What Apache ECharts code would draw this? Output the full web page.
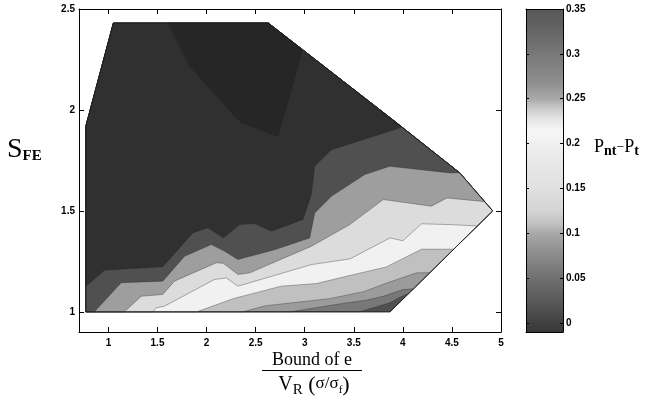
<!DOCTYPE html>
<html>
<head>
<meta charset="utf-8">
<script src="https://cdn.jsdelivr.net/npm/echarts@6/dist/echarts.min.js"></script>
<style>
  html, body { margin: 0; padding: 0; background: #fff; }
  #chart { width: 645px; height: 403px; }
</style>
</head>
<body>
<div id="chart"></div>
<script>
// filled contour of Pnt - Pt over (bound of e / VR, S_FE)
// every edge is a list of [x, y] points in data units

// outline of the region where the function was evaluated
const domainEdge = [[0.77, 1.0], [3.87, 1.0], [4.915, 1.5], [4.58, 1.688], [3.9, 1.95], [2.63, 2.43], [1.05, 2.43], [0.77, 1.92]];

// contour lines, lowest level first (bottom right) to highest (top)
const lineH = [[3.55, 0.9], [3.56, 1.0], [3.87, 1.045], [3.96, 1.07], [4.2, 1.12]];
const lineG = [[2.84, 0.9], [2.86, 1.0], [3.3, 1.035], [3.63, 1.058], [3.8, 1.077], [4.0, 1.11], [4.3, 1.12]];
const lineF = [[2.35, 0.9], [2.37, 1.0], [2.6, 1.03], [3.25, 1.065], [3.6, 1.10], [3.85, 1.145], [4.14, 1.193], [4.5, 1.195]];
const lineE = [[1.88, 0.9], [1.9, 1.0], [2.27, 1.065], [2.76, 1.127], [3.12, 1.14], [3.46, 1.18], [3.83, 1.222], [4.19, 1.31], [4.7, 1.31]];
const lineD = [[1.44, 0.9], [1.452, 1.0], [1.487, 1.02], [1.571, 1.028], [2.08, 1.16], [2.2, 1.168], [2.32, 1.127],
  [3.07, 1.234], [3.46, 1.262], [3.87, 1.366], [4.0, 1.352], [4.19, 1.436], [4.48, 1.432], [4.9, 1.422]];
const lineC = [[1.14, 0.9], [1.163, 1.0], [1.334, 1.077], [1.554, 1.086], [1.673, 1.152], [2.1, 1.243], [2.17, 1.24],
  [2.32, 1.185], [2.44, 1.193], [3.07, 1.325], [3.46, 1.432], [3.8, 1.556], [4.04, 1.54], [4.29, 1.523],
  [4.45, 1.564], [4.79, 1.548], [5.1, 1.52]];
const lineB = [[0.83, 0.9], [0.857, 1.0], [1.13, 1.144], [1.554, 1.152], [1.776, 1.275], [2.048, 1.333], [2.184, 1.30],
  [2.319, 1.259], [2.694, 1.308], [3.051, 1.366], [3.102, 1.49], [3.272, 1.572], [3.612, 1.68], [3.867, 1.721],
  [4.48, 1.688], [4.8, 1.69]];
const lineA = [[0.6, 1.11], [0.772, 1.127], [0.959, 1.206], [1.554, 1.223], [1.86, 1.391], [2.013, 1.416], [2.17, 1.366],
  [2.337, 1.432], [2.49, 1.437], [2.66, 1.399], [2.983, 1.457], [3.068, 1.581], [3.102, 1.721], [3.272, 1.803],
  [3.9, 1.9], [4.2, 1.95]];
const islandEdge = [[1.59, 2.6], [1.605, 2.43], [1.673, 2.364], [1.827, 2.216], [1.997, 2.125], [2.268, 1.977],
  [2.354, 1.936], [2.728, 1.869], [2.949, 2.241], [3.1, 2.6]];

const bandLines = [null, lineH, lineG, lineF, lineE, lineD, lineC, lineB, lineA, islandEdge];
const bandLevels = [0, 0.03, 0.06, 0.09, 0.13, 0.2, 0.24, 0.27, 0.31, 0.35];
const bandColors = ['#505050', '#787878', '#9b9b9b', '#c0c0c0', '#f1f1f1', '#dcdcdc', '#9e9e9e', '#505050', '#303030', '#262626'];

// colour bar
const cbValues = [-0.01, 0, 0.02, 0.05, 0.08, 0.1, 0.11, 0.125, 0.15, 0.18, 0.2, 0.215, 0.23, 0.24, 0.25, 0.27, 0.3, 0.33, 0.35];
const cbGrays = [56, 64, 85, 112, 144, 168, 192, 212, 224, 232, 240, 246, 224, 200, 168, 140, 120, 98, 88];
const cbMin = -0.01, cbMax = 0.35;

// Sutherland-Hodgman against the (convex) domain
function clipToDomain(poly) {
  let out = poly;
  for (let k = 0; k < domainEdge.length; k++) {
    const a = domainEdge[k], b = domainEdge[(k + 1) % domainEdge.length];
    const side = p => (b[0] - a[0]) * (p[1] - a[1]) - (b[1] - a[1]) * (p[0] - a[0]);
    const src = out;
    out = [];
    for (let j = 0; j < src.length; j++) {
      const p = src[j], q = src[(j + 1) % src.length];
      const sp = side(p), sq = side(q);
      if (sp >= 0) out.push(p);
      if ((sp >= 0) !== (sq >= 0)) {
        const t = sp / (sp - sq);
        out.push([p[0] + t * (q[0] - p[0]), p[1] + t * (q[1] - p[1])]);
      }
    }
  }
  return out;
}

// region on the upper-left side of a contour line
function bandPolygon(i) {
  const line = bandLines[i];
  if (!line) return domainEdge;
  const first = line[0], last = line[line.length - 1];
  return clipToDomain(line.concat([[6, last[1]], [6, 3], [0.5, 3], [0.5, first[1]]]));
}

const chart = echarts.init(document.getElementById('chart'));

const tickFont = { color: '#000', fontSize: 10, fontWeight: 'bold', fontFamily: 'Liberation Sans, Arial, sans-serif' };
const serif = 'Liberation Serif, Times New Roman, serif';

function valAxis(opt) {
  return Object.assign({
    type: 'value',
    z: 5,
    axisLine: { show: true, onZero: false, lineStyle: { color: '#000', width: 1 } },
    axisTick: { show: true, inside: true, length: 5, lineStyle: { color: '#000', width: 1 } },
    axisLabel: { show: false },
    splitLine: { show: false }
  }, opt);
}

const cbTick = { show: true, inside: true, length: 3, lineStyle: { color: '#000', width: 1 } };

chart.setOption({
  animation: false,
  backgroundColor: '#fff',
  grid: [
    { left: 79, top: 9, width: 422, height: 323 },
    { left: 526, top: 9, width: 37, height: 323 }
  ],
  xAxis: [
    valAxis({ gridIndex: 0, min: 0.7, max: 5, splitNumber: 9, position: 'bottom',
      axisLabel: Object.assign({ show: true, margin: 6, showMinLabel: false }, tickFont) }),
    valAxis({ gridIndex: 0, min: 0.7, max: 5, splitNumber: 9, position: 'top' }),
    valAxis({ gridIndex: 1, min: 0, max: 1, position: 'bottom', axisTick: { show: false } }),
    valAxis({ gridIndex: 1, min: 0, max: 1, position: 'top', axisTick: { show: false } })
  ],
  yAxis: [
    valAxis({ gridIndex: 0, min: 0.9, max: 2.5, splitNumber: 3, position: 'left',
      axisLabel: Object.assign({ show: true, margin: 4, showMinLabel: false }, tickFont) }),
    valAxis({ gridIndex: 0, min: 0.9, max: 2.5, splitNumber: 3, position: 'right' }),
    valAxis({ gridIndex: 1, min: cbMin, max: cbMax, splitNumber: 7, position: 'right', axisTick: cbTick,
      axisLabel: Object.assign({ show: true, margin: 3, showMinLabel: false }, tickFont) }),
    valAxis({ gridIndex: 1, min: cbMin, max: cbMax, splitNumber: 7, position: 'left', axisTick: cbTick })
  ],
  series: [
    {
      name: 'Pnt-Pt',
      type: 'custom',
      xAxisIndex: 0,
      yAxisIndex: 0,
      silent: true,
      data: bandLevels.map(v => [v]),
      renderItem: function (params, api) {
        const i = params.dataIndex;
        const pts = bandPolygon(i).map(p => api.coord(p));
        return {
          type: 'polygon',
          shape: { points: pts },
          style: { fill: bandColors[i], stroke: '#262626', lineWidth: 0.5, strokeOpacity: 0.7 }
        };
      }
    },
    {
      type: 'custom',
      xAxisIndex: 0,
      yAxisIndex: 0,
      silent: true,
      data: [[0]],
      renderItem: function (params, api) {
        return {
          type: 'polygon',
          shape: { points: domainEdge.map(p => api.coord(p)) },
          style: { fill: 'none', stroke: '#1c1c1c', lineWidth: 1 }
        };
      }
    },
    {
      type: 'custom',
      xAxisIndex: 2,
      yAxisIndex: 2,
      silent: true,
      data: [[0]],
      renderItem: function (params, api) {
        const p0 = api.coord([0, cbMax]);
        const p1 = api.coord([1, cbMin]);
        const stops = cbValues.map((v, k) => ({
          offset: (v - cbMin) / (cbMax - cbMin),
          color: 'rgb(' + cbGrays[k] + ',' + cbGrays[k] + ',' + cbGrays[k] + ')'
        }));
        return {
          type: 'rect',
          shape: { x: p0[0], y: p0[1], width: p1[0] - p0[0], height: p1[1] - p0[1] },
          style: { fill: new echarts.graphic.LinearGradient(0, 1, 0, 0, stops) }
        };
      }
    }
  ],
  graphic: [
    {
      type: 'text', left: 7, top: 136,
      style: {
        text: '{s|S}{b|FE}',
        rich: {
          s: { fontSize: 28, fontFamily: serif, fill: '#000', verticalAlign: 'bottom' },
          b: { fontSize: 15, fontFamily: serif, fontWeight: 'bold', fill: '#000', verticalAlign: 'bottom' }
        }
      }
    },
    {
      type: 'text', x: 312, y: 360,
      style: { text: 'Bound of e', fontSize: 18, fontFamily: serif, fill: '#000', align: 'center', verticalAlign: 'middle' }
    },
    {
      type: 'line',
      shape: { x1: 262, y1: 370.5, x2: 362, y2: 370.5 },
      style: { stroke: '#000', lineWidth: 1 }
    },
    {
      type: 'text', x: 314, y: 386,
      style: {
        text: '{v|V}{r|R}{p| (}{g|σ}{n|/}{g|σ}{f|f}{p|)}',
        align: 'center', verticalAlign: 'middle',
        rich: {
          v: { fontSize: 20, fontFamily: serif, fill: '#000', verticalAlign: 'bottom', padding: [0, 0, 3, 0] },
          r: { fontSize: 15, fontFamily: serif, fill: '#000', verticalAlign: 'bottom' },
          p: { fontSize: 22, fontFamily: serif, fill: '#000', verticalAlign: 'bottom', padding: [0, 0, 1, 0] },
          g: { fontSize: 17, fontFamily: serif, fill: '#000', verticalAlign: 'bottom', padding: [0, 0, 5, 0] },
          n: { fontSize: 17, fontFamily: serif, fill: '#000', verticalAlign: 'bottom', padding: [0, 0, 5, 0] },
          f: { fontSize: 11, fontFamily: serif, fill: '#000', verticalAlign: 'bottom', padding: [0, 0, 2, 0] }
        }
      }
    },
    {
      type: 'text', x: 594, y: 148,
      style: {
        text: '{P|P}{s|nt}{m|−}{P|P}{s|t}',
        verticalAlign: 'middle',
        rich: {
          P: { fontSize: 18, fontFamily: serif, fill: '#000', verticalAlign: 'bottom', padding: [0, 0, 2, 0] },
          s: { fontSize: 14, fontFamily: serif, fontWeight: 'bold', fill: '#000', verticalAlign: 'bottom' },
          m: { fontSize: 14, fontFamily: serif, fill: '#000', verticalAlign: 'bottom', padding: [0, 0, 4, 0] }
        }
      }
    }
  ]
});
</script>
</body>
</html>
